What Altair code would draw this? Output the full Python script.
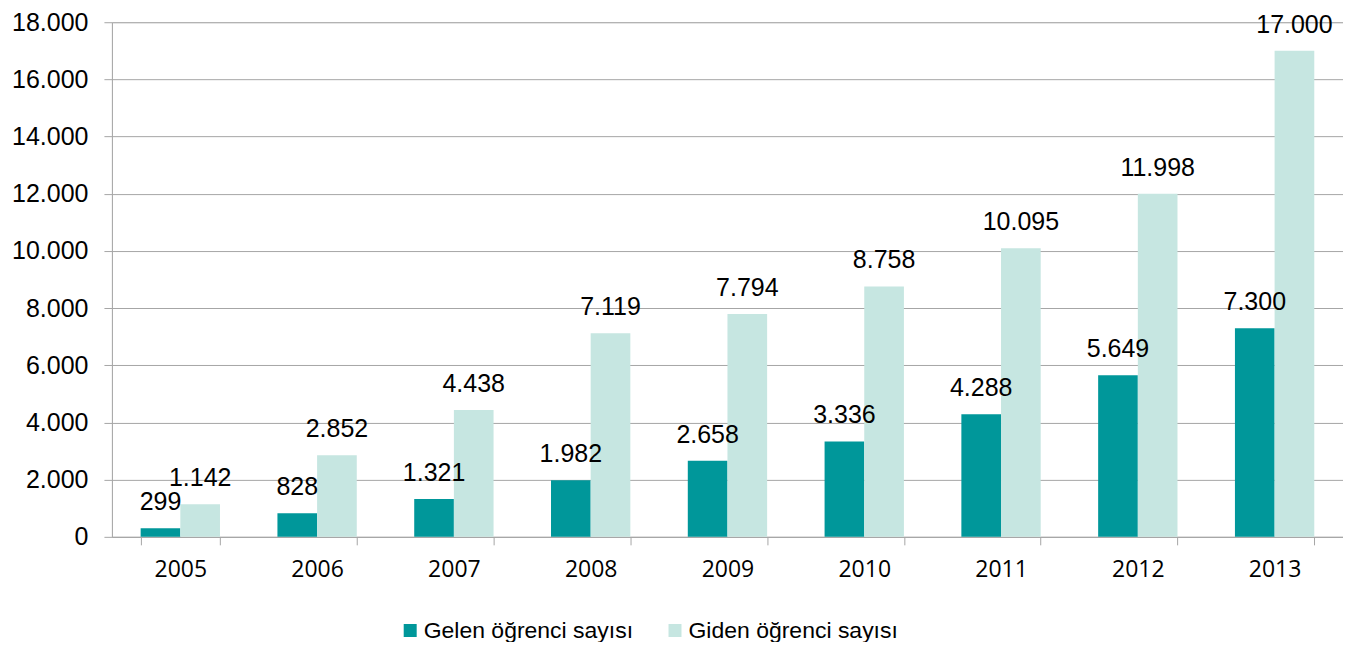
import altair as alt
import pandas as pd

years = ["2005", "2006", "2007", "2008", "2009", "2010", "2011", "2012", "2013"]
gelen = [299, 828, 1321, 1982, 2658, 3336, 4288, 5649, 7300]
giden = [1142, 2852, 4438, 7119, 7794, 8758, 10095, 11998, 17000]
series_names = ["Gelen öğrenci sayısı", "Giden öğrenci sayısı"]
series_colors = ["#00979A", "#C6E6E1"]
y_ticks = [0, 2000, 4000, 6000, 8000, 10000, 12000, 14000, 16000, 18000]

rows = []
for i, y in enumerate(years):
    for name, vals in zip(series_names, [gelen, giden]):
        v = vals[i]
        rows.append({"Yıl": y, "Seri": name, "Değer": v,
                     "Etiket": f"{v:,}".replace(",", ".")})
df = pd.DataFrame(rows)

x_enc = alt.X("Yıl:N", sort=years,
              scale=alt.Scale(paddingInner=0.42, paddingOuter=0.21),
              axis=alt.Axis(title=None, labelAngle=0, tickBand="extent",
                            labelFont="Open Sans", labelFontSize=23,
                            labelColor="#000000", labelPadding=14,
                            tickSize=8, tickColor="#A6A6A6",
                            domainColor="#A6A6A6", grid=False))
xoff = alt.XOffset("Seri:N", sort=series_names)
y_enc = alt.Y("Değer:Q", scale=alt.Scale(domain=[0, 18000], nice=False),
              axis=alt.Axis(title=None, values=y_ticks,
                            labelExpr="replace(format(datum.value, ','), ',', '.')",
                            labelFont="Liberation Sans", labelFontSize=25,
                            labelColor="#000000", labelPadding=16,
                            tickSize=8, tickColor="#A6A6A6",
                            domainColor="#A6A6A6",
                            grid=True, gridColor="#A6A6A6"))
color_enc = alt.Color("Seri:N", sort=series_names,
                      scale=alt.Scale(domain=series_names, range=series_colors),
                      legend=alt.Legend(title=None, orient="none",
                                        direction="horizontal",
                                        legendX=287, legendY=597,
                                        symbolType="square", symbolSize=169,
                                        symbolStrokeWidth=0,
                                        symbolOpacity=1,
                                        labelFont="Liberation Sans",
                                        labelFontSize=23, labelColor="#000000",
                                        labelLimit=0,
                                        labelOffset=2, columnPadding=30))

base = alt.Chart(df)
bars = base.mark_bar().encode(x=x_enc, xOffset=xoff, y=y_enc, color=color_enc)
labels = base.mark_text(baseline="alphabetic", dy=-18,
                        font="Liberation Sans", fontSize=25,
                        color="#000000").encode(
    x=alt.X("Yıl:N", sort=years), xOffset=xoff, y="Değer:Q", text="Etiket:N")

chart = alt.layer(bars, labels).properties(
    width=1232, height=515,
    autosize=alt.AutoSizeParams(type="none"),
    padding={"left": 104, "top": 14, "right": 0, "bottom": 105},
).configure_view(stroke=None).configure(background="#FFFFFF")

chart.save("out.html", embed_options={"renderer": "svg", "actions": False})
